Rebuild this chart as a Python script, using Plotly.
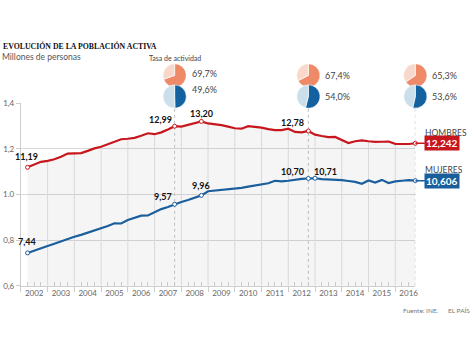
import plotly.graph_objects as go

# ---------------- data ----------------
years = list(range(2002, 2017))
quarters = [f"{y}T{q}" for y in range(2002, 2017) for q in range(1, 5)][:59]

hombres = [11.19, 11.30, 11.43, 11.47, 11.54, 11.65, 11.79, 11.80, 11.81, 11.91,
           12.02, 12.09, 12.21, 12.33, 12.42, 12.44, 12.48, 12.57, 12.68, 12.64,
           12.72, 12.85, 12.99, 12.97, 13.05, 13.13, 13.20, 13.11, 13.08, 13.04,
           12.97, 12.90, 12.88, 12.99, 12.96, 12.93, 12.86, 12.82, 12.82, 12.88,
           12.74, 12.72, 12.78, 12.62, 12.56, 12.51, 12.52, 12.40, 12.25, 12.33,
           12.37, 12.33, 12.30, 12.31, 12.32, 12.22, 12.20, 12.21, 12.242]
mujeres = [7.44, 7.55, 7.64, 7.74, 7.84, 7.95, 8.06, 8.15, 8.23, 8.32,
           8.41, 8.50, 8.62, 8.74, 8.73, 8.88, 8.98, 9.07, 9.08, 9.22,
           9.36, 9.45, 9.57, 9.67, 9.76, 9.86, 9.96, 10.14, 10.17, 10.19,
           10.20, 10.24, 10.29, 10.34, 10.40, 10.45, 10.49, 10.60, 10.57, 10.60,
           10.65, 10.68, 10.70, 10.71, 10.67, 10.66, 10.62, 10.63, 10.59, 10.55,
           10.47, 10.61, 10.52, 10.64, 10.50, 10.57, 10.60, 10.63, 10.606]

labeled_h = ["2002T1", "2007T3", "2008T3", "2012T3"]
labeled_m = ["2002T1", "2007T3", "2008T3", "2012T3", "2012T4"]

tasa_q = ["2007T3", "2012T3", "2016T3"]
tasa_h = [69.7, 67.4, 65.3]
tasa_m = [49.6, 54.0, 53.6]

y_ticks = [6, 8, 10, 12, 14]
y_ticktext = ["0,6", "0,8", "1.0", "1,2", "1,4"]

# ---------------- styles ----------------
W, H = 470, 353
RED = "#c8161d"
BLUE = "#1a5f9c"
SALMON, PEACH = "#ee8a68", "#f8d8ca"
DBLUE, LBLUE = "#13619e", "#cadfeb"
GRID = "#d9d9d9"
FONT = "Lato"

# plot area in px
PX_L, PX_R, PX_T, PX_B = 21, 418, 101, 289
X0, X1 = 2002.0, 2016.75
Y0, Y1 = 6, 14


def qx(s):
    return int(s[:4]) + int(s[-1]) / 4.0


xs = [qx(s) for s in quarters]
hmap = dict(zip(quarters, hombres))
mmap = dict(zip(quarters, mujeres))
hx = dict(zip(xs, hombres))


def px_of(x):
    return PX_L + (x - X0) * (PX_R - PX_L) / (X1 - X0)


fig = go.Figure()

# shaded area below men's line
fig.add_trace(go.Scatter(x=xs, y=hombres, mode="lines", line=dict(width=0),
                         fill="tozeroy", fillcolor="rgba(0,0,0,0.04)",
                         hoverinfo="skip", showlegend=False))

# year boundary grid lines only inside the shaded area
vx, vy = [], []
for yv in years[1:]:
    vx += [yv, yv, None]
    vy += [Y0, hx[float(yv)], None]
fig.add_trace(go.Scatter(x=vx, y=vy, mode="lines", line=dict(color=GRID, width=1),
                         hoverinfo="skip", showlegend=False))

# dotted lines at the activity-rate dates
dx, dy = [], []
for q in tasa_q:
    dx += [qx(q), qx(q), None]
    dy += [Y0, 13.83, None]
fig.add_trace(go.Scatter(x=dx, y=dy, mode="lines",
                         line=dict(color="#bdbdbd", width=1, dash="dot"),
                         hoverinfo="skip", showlegend=False))

# lines
fig.add_trace(go.Scatter(x=xs, y=hombres, mode="lines", line=dict(color=RED, width=2.2),
                         hoverinfo="skip", showlegend=False))
fig.add_trace(go.Scatter(x=xs, y=mujeres, mode="lines", line=dict(color=BLUE, width=2.2),
                         hoverinfo="skip", showlegend=False))

# hollow markers
mk_h = labeled_h + [quarters[-1]]
mk_m = labeled_m + [quarters[-1]]
fig.add_trace(go.Scatter(x=[qx(q) for q in mk_h], y=[hmap[q] for q in mk_h], mode="markers",
                         marker=dict(size=4, color="white", line=dict(color=RED, width=1)),
                         cliponaxis=False, hoverinfo="skip", showlegend=False))
fig.add_trace(go.Scatter(x=[qx(q) for q in mk_m], y=[mmap[q] for q in mk_m], mode="markers",
                         marker=dict(size=4, color="white", line=dict(color=BLUE, width=1)),
                         cliponaxis=False, hoverinfo="skip", showlegend=False))

# dummy trace for the boundary-tick axis
fig.add_trace(go.Scatter(x=[X0], y=[None], xaxis="x2", mode="markers",
                         hoverinfo="skip", showlegend=False))


def fmt(v):
    return f"{v:.2f}".replace(".", ",")


lab_font = dict(family=FONT, size=9, color="#111")
# label placement: (xanchor, xshift, yshift)
place_h = {"2002T1": ("center", -1, 11), "2007T3": ("right", -1, 7),
           "2008T3": ("center", 0, 8), "2012T3": ("right", -2, 8)}
place_m = {"2002T1": ("center", -1, 11), "2007T3": ("right", -1, 8),
           "2008T3": ("center", 0, 10), "2012T3": ("right", -2, 7),
           "2012T4": ("left", -3, 7)}
for q in labeled_h:
    xa, xsft, ysft = place_h[q]
    fig.add_annotation(x=qx(q), y=hmap[q], text=f"<b>{fmt(hmap[q])}</b>", showarrow=False,
                       xanchor=xa, yanchor="middle", xshift=xsft, yshift=ysft, font=lab_font)
for q in labeled_m:
    xa, xsft, ysft = place_m[q]
    fig.add_annotation(x=qx(q), y=mmap[q], text=f"<b>{fmt(mmap[q])}</b>", showarrow=False,
                       xanchor=xa, yanchor="middle", xshift=xsft, yshift=ysft, font=lab_font)

# end boxes
last = quarters[-1]
for val, col, name, name_py in [(hmap[last], RED, "HOMBRES", 131.5),
                                (mmap[last], BLUE, "MUJERES", 169.5)]:
    fig.add_annotation(x=qx(last), y=val, text=f"<b>{val:.3f}</b>".replace(".", ","),
                       showarrow=True, arrowhead=0, arrowwidth=1.5, arrowcolor=col,
                       ax=27, ay=0, bgcolor=col, borderpad=1,
                       font=dict(family=FONT, size=10, color="white"))
    fig.add_annotation(x=426 / W, y=1 - name_py / H, xref="paper", yref="paper",
                       text=name, showarrow=False, xanchor="left", yanchor="middle",
                       font=dict(family=FONT, size=8.5, color="#444"))

# pies
R = 12.0
for i, q in enumerate(tasa_q):
    cx = px_of(qx(q))
    for vals, cols, cy in [([tasa_h[i], 100 - tasa_h[i]], [SALMON, PEACH], 72.5),
                           ([tasa_m[i], 100 - tasa_m[i]], [DBLUE, LBLUE], 94.2)]:
        fig.add_trace(go.Pie(values=vals, sort=False, direction="clockwise", rotation=0,
                             marker=dict(colors=cols, line=dict(color="white", width=0.6)),
                             textinfo="none", hoverinfo="skip", showlegend=False,
                             domain=dict(x=[(cx - R) / W, (cx + R) / W],
                                         y=[1 - (cy + R) / H, 1 - (cy - R) / H])))
    ty = (70.5, 87.0) if i == 0 else (73.0, 94.0)
    for v, t in zip((tasa_h[i], tasa_m[i]), ty):
        fig.add_annotation(x=(cx + 15) / W, y=1 - t / H, xref="paper", yref="paper",
                           text=f"{v:.1f}%".replace(".", ","), showarrow=False,
                           xanchor="left", yanchor="middle",
                           font=dict(family=FONT, size=9, color="#444"))
fig.add_annotation(x=px_of(qx(tasa_q[0])) / W, y=1 - 55 / H, xref="paper", yref="paper",
                   text="Tasa de actividad", showarrow=False, xanchor="center",
                   yanchor="middle", font=dict(family=FONT, size=7, color="#444"))

# titles / footer
fig.add_annotation(x=1 / W, y=1 - 42 / H, xref="paper", yref="paper",
                   text="<b>EVOLUCIÓN DE LA POBLACIÓN ACTIVA</b>", showarrow=False,
                   xanchor="left", yanchor="middle",
                   font=dict(family="Liberation Serif", size=7.8, color="#111"))
fig.add_annotation(x=0 / W, y=1 - 54 / H, xref="paper", yref="paper",
                   text="Millones de personas", showarrow=False, xanchor="left",
                   yanchor="middle", font=dict(family=FONT, size=8.5, color="#555"))
fig.add_annotation(x=404 / W, y=1 - 314 / H, xref="paper", yref="paper",
                   text="Fuente: INE.", showarrow=False, xanchor="left",
                   yanchor="middle", font=dict(family=FONT, size=6.5, color="#777"))
fig.add_annotation(x=449 / W, y=1 - 314 / H, xref="paper", yref="paper",
                   text="EL PAÍS", showarrow=False, xanchor="left",
                   yanchor="middle", font=dict(family=FONT, size=6.5, color="#777"))

xdom = [PX_L / W, PX_R / W]
ydom = [1 - PX_B / H, 1 - PX_T / H]
minor_q = [y + k / 4 for y in years for k in (1, 2, 3) if y + k / 4 < X1]

fig.update_layout(
    width=W, height=H, margin=dict(l=0, r=0, t=0, b=0),
    paper_bgcolor="white", plot_bgcolor="white",
    font=dict(family=FONT, color="#666"),
    xaxis=dict(domain=xdom, range=[X0, X1], tickmode="array",
               tickvals=[y + 0.5 for y in years], ticktext=[str(y) for y in years],
               ticks="", showgrid=False, zeroline=False, showline=True,
               linecolor="#cccccc", linewidth=1,
               tickfont=dict(family=FONT, size=8, color="#666"),
               minor=dict(tickmode="array", tickvals=minor_q, ticks="inside",
                          ticklen=4, tickcolor="#c8c8c8", showgrid=False)),
    xaxis2=dict(domain=xdom, range=[X0, X1], overlaying="x", anchor="y",
                tickmode="array", tickvals=years, ticks="outside", ticklen=5,
                tickcolor="#cccccc", showticklabels=False, showgrid=False,
                zeroline=False, showline=False),
    yaxis=dict(domain=ydom, range=[Y0, Y1], tickmode="array", tickvals=y_ticks,
               ticktext=y_ticktext, showgrid=True, gridcolor=GRID, gridwidth=1,
               zeroline=False, showline=True, linecolor="#cccccc", ticks="outside",
               ticklen=4, tickcolor="#cccccc",
               tickfont=dict(family=FONT, size=8, color="#666")),
    hovermode=False,
)

fig.write_html("out.html")
